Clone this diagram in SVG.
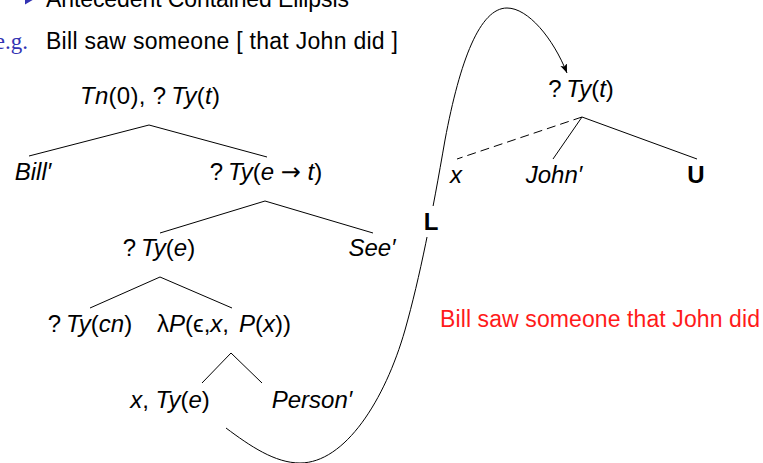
<svg xmlns="http://www.w3.org/2000/svg" width="763" height="463" viewBox="0 0 763 463">
<style>
text{font-family:"Liberation Sans","DejaVu Sans",sans-serif;font-size:23px;fill:#000}
.n{font-size:24px}
.c{text-anchor:middle}
.i{font-style:italic}
.b{font-weight:bold}
.ar{font-family:"DejaVu Sans",sans-serif;font-size:24px}
.eg{font-family:"Liberation Serif","DejaVu Serif",serif;fill:#3333b3}
.red{fill:#ff1a1a}
.ln{stroke:#000;stroke-width:1;fill:none}
.dash{stroke-dasharray:9 5}
</style>
<defs>
<marker id="arr" markerUnits="userSpaceOnUse" markerWidth="12" markerHeight="10" refX="9" refY="3.5" orient="auto">
<path d="M0,0 L9,3.5 L0,7 L2,3.5 z" fill="#000"/>
</marker>
</defs>
<rect width="763" height="463" fill="#fff"/>
<g id="header">
<polygon points="25,-6 25,4.5 34,-0.8" fill="#3333b3"/>
<text x="46" y="7" textLength="303">Antecedent Contained Ellipsis</text>
<text class="eg" x="28" y="49" text-anchor="end">e.g.</text>
<text x="46" y="49" textLength="352">Bill saw someone [ that John did ]</text>
</g>
<g id="connectors">
<path class="ln" d="M149,125 L29,156 M149,125 L267,157"/>
<path class="ln" d="M265,201 L160,233 M265,201 L373,233"/>
<path class="ln" d="M160,277 L90,308 M160,277 L232,308"/>
<path class="ln" d="M231,353 L202,383 M231,353 L262,383"/>
<path class="ln dash" d="M582,117 L457,159"/>
<path class="ln" d="M582,117 L553,159 M582,117 L697,159"/>
<path class="ln" marker-end="url(#arr)" d="M226,428 C250,446 275,463 300,463 C345,463 385,400 405,330 C420,277 432,215 445,140 C460,60 480,8 507,8 C528,8 553,38 567,73"/>
</g>
<g id="n-root"><text class="n" x="80" y="104" textLength="140"><tspan class="i">Tn</tspan>(0), ?&#8201;<tspan class="i">Ty</tspan>(<tspan class="i">t</tspan>)</text></g>
<g id="n-bill"><text class="n c i" x="33" y="180">Bill&#8242;</text></g>
<g id="n-tyet"><text class="n c" x="266" y="180">?&#8201;<tspan class="i">Ty</tspan>(<tspan class="i">e</tspan> <tspan class="ar">&#8594;</tspan> <tspan class="i">t</tspan>)</text></g>
<g id="n-tye"><text class="n c" x="159" y="256">?&#8201;<tspan class="i">Ty</tspan>(<tspan class="i">e</tspan>)</text></g>
<g id="n-see"><text class="n c i" x="372" y="256">See&#8242;</text></g>
<g id="n-tycn"><text class="n c" x="90" y="332">?&#8201;<tspan class="i">Ty</tspan>(<tspan class="i">cn</tspan>)</text></g>
<g id="n-lambda"><text class="n c" x="224" y="332">λ<tspan class="i">P</tspan>(ϵ,<tspan class="i">x</tspan>,<tspan dx="10" class="i">P</tspan>(<tspan class="i">x</tspan>))</text></g>
<g id="n-xtye"><text class="n c" x="170" y="408"><tspan class="i">x</tspan>, <tspan class="i">Ty</tspan>(<tspan class="i">e</tspan>)</text></g>
<g id="n-person"><text class="n c i" x="312" y="408">Person&#8242;</text></g>
<g id="n-tyt2"><text class="n c" x="581" y="97">?&#8201;<tspan class="i">Ty</tspan>(<tspan class="i">t</tspan>)</text></g>
<g id="n-x"><text class="n c i" x="456" y="183">x</text></g>
<g id="n-john"><text class="n c i" x="554" y="183">John&#8242;</text></g>
<g id="n-u"><text class="n c b" x="696" y="183">U</text></g>
<g id="n-l"><rect x="423" y="206" width="16" height="31" fill="#fff"/><text class="n c b" x="431" y="230">L</text></g>
<g id="caption"><text class="red" x="440" y="327" textLength="320">Bill saw someone that John did</text></g>
</svg>
